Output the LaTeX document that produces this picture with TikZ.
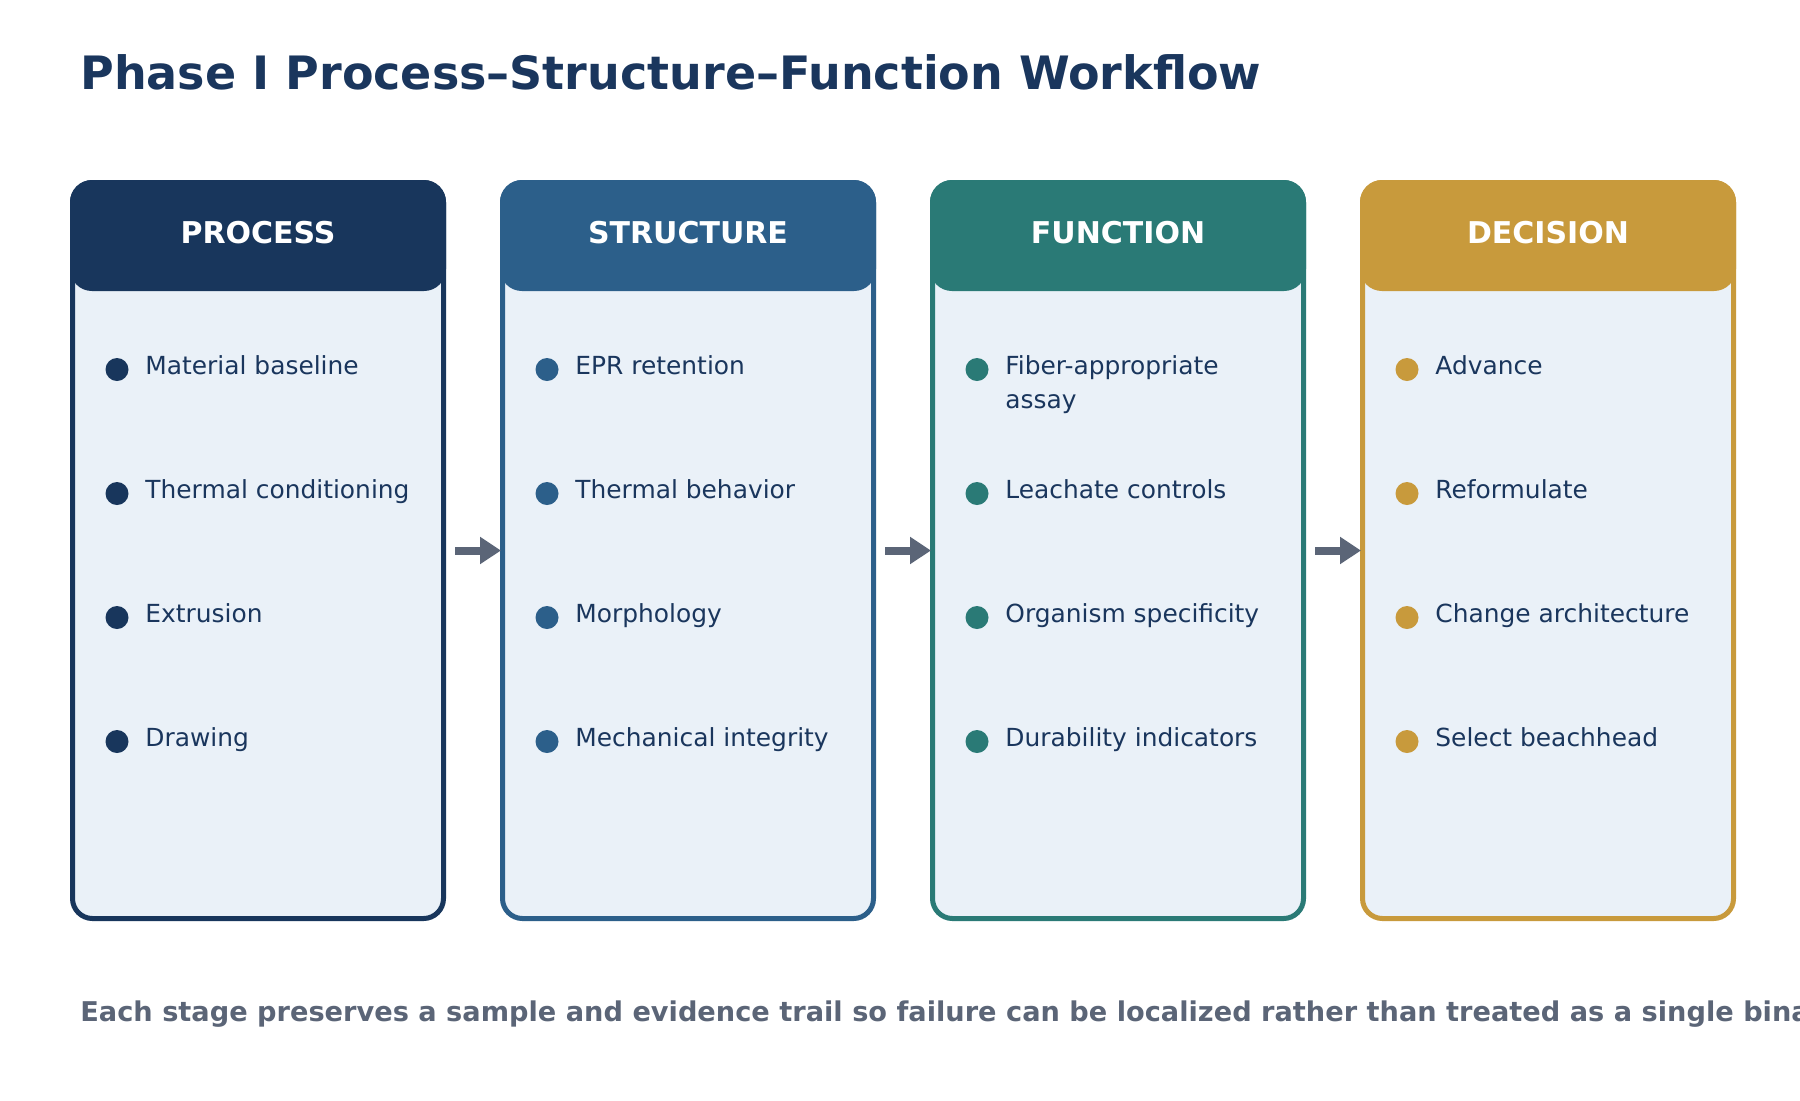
\documentclass[tikz,border=0pt]{standalone}
\usepackage{fontspec}
\setmainfont{DejaVu Sans}
\usetikzlibrary{positioning,arrows.meta}

\definecolor{titlenavy}{HTML}{1A365D}
\definecolor{procnavy}{HTML}{18365C}
\definecolor{structblue}{HTML}{2C5F8A}
\definecolor{functeal}{HTML}{2A7A76}
\definecolor{decigold}{HTML}{C89A3C}
\definecolor{panelfill}{HTML}{EAF1F8}
\definecolor{flowgray}{HTML}{5B6577}

\begin{document}
\begin{tikzpicture}[
    x=0.5pt, y=-0.5pt,
    stagebox/.style={draw, line width=2.5pt, fill=panelfill, rounded corners=10pt, minimum width=185.5pt, minimum height=368pt},
    stagehead/.style={rounded corners=11pt, minimum width=188pt, minimum height=55.5pt},
    headtext/.style={text=white, anchor=base, font=\bfseries\fontsize{15}{18}\selectfont},
    dot/.style={circle, inner sep=0pt, minimum size=11.5pt},
    item/.style={anchor=base west, inner sep=0pt, align=left, text=titlenavy, font=\fontsize{12.45}{17.2}\selectfont},
    flow/.style={-{Triangle[length=10.5pt,width=13pt]}, line width=4pt, draw=flowgray, shorten <=4.5pt, shorten >=-0.5pt}
]
\useasboundingbox (0,0) rectangle (1800,1100);

% Title
\node[anchor=base west, inner sep=0pt, text=titlenavy, font=\bfseries\fontsize{23}{28}\selectfont] (title) at (80,89) {Phase I Process–Structure–Function Workflow};

% Stages
\node[stagebox, draw=procnavy] (process) at (258,550.5) {};
\node[stagebox, draw=structblue] (structure) at (688,550.5) {};
\node[stagebox, draw=functeal] (function) at (1118,550.5) {};
\node[stagebox, draw=decigold] (decision) at (1548,550.5) {};

% Headers
\node[stagehead, fill=procnavy] (processhead) at (258,235.5) {};
\node[stagehead, fill=structblue] (structurehead) at (688,235.5) {};
\node[stagehead, fill=functeal] (functionhead) at (1118,235.5) {};
\node[stagehead, fill=decigold] (decisionhead) at (1548,235.5) {};
\node[headtext] at (258,243) {PROCESS};
\node[headtext] at (688,243) {STRUCTURE};
\node[headtext] at (1118,243) {FUNCTION};
\node[headtext] at (1548,243) {DECISION};

% Process items
\node[dot, fill=procnavy] (pdot1) at (117,369.5) {};
\node[item] (pitem1) at (145,374) {Material baseline};
\node[dot, fill=procnavy] (pdot2) at (117,493.5) {};
\node[item] (pitem2) at (145,498) {Thermal conditioning};
\node[dot, fill=procnavy] (pdot3) at (117,617.5) {};
\node[item] (pitem3) at (145,622) {Extrusion};
\node[dot, fill=procnavy] (pdot4) at (117,741.5) {};
\node[item] (pitem4) at (145,746) {Drawing};

% Structure items
\node[dot, fill=structblue] (sdot1) at (547,369.5) {};
\node[item] (sitem1) at (575,374) {EPR retention};
\node[dot, fill=structblue] (sdot2) at (547,493.5) {};
\node[item] (sitem2) at (575,498) {Thermal behavior};
\node[dot, fill=structblue] (sdot3) at (547,617.5) {};
\node[item] (sitem3) at (575,622) {Morphology};
\node[dot, fill=structblue] (sdot4) at (547,741.5) {};
\node[item] (sitem4) at (575,746) {Mechanical integrity};

% Function items (two lines: base is the second line)
\node[dot, fill=functeal] (fdot1) at (977,369.5) {};
\node[item] (fitem1) at (1005,408.4) {Fiber-appropriate\\assay};
\node[dot, fill=functeal] (fdot2) at (977,493.5) {};
\node[item] (fitem2) at (1005,498) {Leachate controls};
\node[dot, fill=functeal] (fdot3) at (977,617.5) {};
\node[item] (fitem3) at (1005,622) {Organism specificity};
\node[dot, fill=functeal] (fdot4) at (977,741.5) {};
\node[item] (fitem4) at (1005,746) {Durability indicators};

% Decision items
\node[dot, fill=decigold] (ddot1) at (1407,369.5) {};
\node[item] (ditem1) at (1435,374) {Advance};
\node[dot, fill=decigold] (ddot2) at (1407,493.5) {};
\node[item] (ditem2) at (1435,498) {Reformulate};
\node[dot, fill=decigold] (ddot3) at (1407,617.5) {};
\node[item] (ditem3) at (1435,622) {Change architecture};
\node[dot, fill=decigold] (ddot4) at (1407,741.5) {};
\node[item] (ditem4) at (1435,746) {Select beachhead};

% Flow
\draw[flow] (process) -- (structure);
\draw[flow] (structure) -- (function);
\draw[flow] (function) -- (decision);

% Caption
\node[anchor=base west, inner sep=0pt, text=flowgray, font=\bfseries\fontsize{13.6}{17}\selectfont] (caption) at (80,1021.5) {Each stage preserves a sample and evidence trail so failure can be localized rather than treated as a single binary};

\end{tikzpicture}
\end{document}
